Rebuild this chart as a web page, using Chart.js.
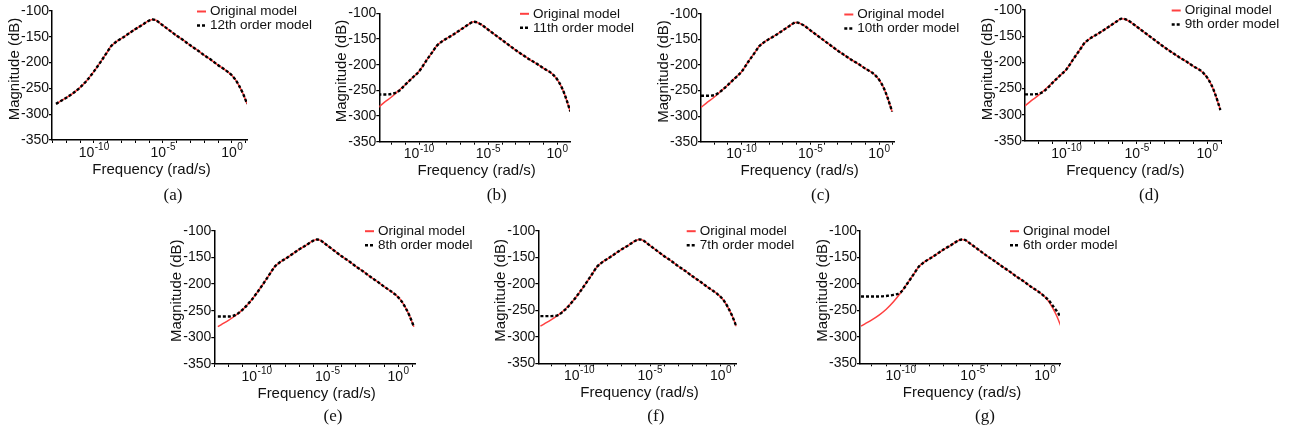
<!DOCTYPE html>
<html lang="en">

<head>
    <meta charset="UTF-8">
    <title>Reduced order models</title>
    <script src="https://cdn.jsdelivr.net/npm/chart.js"></script>
    <style>
        html, body { margin: 0; padding: 0; background: #fff; }
        #wrap { position: relative; width: 1300px; height: 437px; overflow: hidden; }
        #wrap canvas { position: absolute; left: 0; top: 0; }
    </style>
</head>

<body>
    <div id="wrap"></div>

    <script>
        // frequency grid as powers of ten (rad/s), two sets
        const freqExpA = [-12.75, -12.5, -12, -11.5, -11, -10.5, -10, -9.5, -9, -8.75, -8.5, -8.25, -8, -7.5, -7, -6.5, -6.25, -6, -5.75, -5.5, -5.25, -5, -4.5, -4, -3.5, -3, -2.5, -2, -1.5, -1, -0.5, -0.25, 0, 0.25, 0.5, 0.8, 1.1];
        const freqExpB = [-12.95, -12.5, -12, -11.5, -11, -10.5, -10, -9.5, -9, -8.75, -8.5, -8.25, -8, -7.5, -7, -6.5, -6.25, -6.1, -5.9, -5.75, -5.5, -5, -4.5, -4, -3.5, -3, -2.5, -2, -1.5, -1, -0.5, -0.25, 0, 0.3, 0.6, 0.94];

        // original model magnitude (dB)
        const origA = [-280, -276, -268, -259, -248, -234, -217, -198, -178, -168, -162, -157, -153, -144, -135, -127, -122.5, -118.5, -116.5, -118, -123, -128, -138, -148, -157, -167, -176, -186, -195, -205, -214, -219, -225, -233, -244, -260, -280];
        const origB = [-283, -273, -263, -251, -239, -226, -213, -193, -174, -164, -158, -153, -149, -141, -132, -123, -118.5, -116.5, -117, -118.5, -122, -132, -142, -152, -162, -172, -181, -190, -198, -207, -215, -221, -229, -243, -263, -291];

        // reduced order models (dB)
        const m12 = [-280, -276, -268, -259, -248, -234, -217, -198, -178, -168, -162, -157, -153, -144, -135, -127, -122.5, -118.5, -116.5, -118, -123, -128, -138, -148, -157, -167, -176, -186, -195, -205, -214, -219, -225, -233, -244, -260, -280];
        const m11 = [-258, -258, -257, -252, -239, -226, -213, -193, -174, -164, -158, -153, -149, -141, -132, -123, -118.5, -116.5, -117, -118.5, -122, -132, -142, -152, -162, -172, -181, -190, -198, -207, -215, -221, -229, -243, -263, -291];
        const m10 = [-260, -260, -259, -251, -239, -226, -213, -193, -174, -164, -158, -153, -149, -141, -132, -123, -118.5, -116.5, -117, -118.5, -122, -132, -142, -152, -162, -172, -181, -190, -198, -207, -215, -221, -229, -243, -263, -291];
        const m9 = [-261, -261, -260, -253, -239, -226, -213, -193, -174, -164, -158, -153, -149, -141, -132, -123, -118.5, -116.5, -117, -118.5, -122, -132, -142, -152, -162, -172, -181, -190, -198, -207, -215, -221, -229, -243, -263, -291];
        const m8 = [-261, -261, -261, -258, -248, -234, -217, -198, -178, -168, -162, -157, -153, -144, -135, -127, -122.5, -118.5, -116.5, -118, -123, -128, -138, -148, -157, -167, -176, -186, -195, -205, -214, -219, -225, -233, -244, -260, -280];
        const m7 = [-261, -261, -261, -259, -249, -234, -217, -198, -178, -168, -162, -157, -153, -144, -135, -127, -122.5, -118.5, -116.5, -118, -123, -128, -138, -148, -157, -167, -176, -186, -195, -205, -214, -219, -225, -233, -244, -260, -280];
        const m6 = [-224, -224, -224, -224, -223, -221, -216, -198, -178, -168, -162, -157, -153, -144, -135, -127, -122.5, -118.5, -116.5, -118, -123, -128, -138, -148, -157, -167, -176, -186, -195, -205, -214, -219, -225, -231, -240, -251, -263];

        // ticks
        const yTicks = [-100, -150, -200, -250, -300, -350];
        const xTickExps = [-13, -12, -11, -10, -9, -8, -7, -6, -5, -4, -3, -2, -1, 0, 1];
        const xLabelExps = [-10, -5, 0];
        const xLabelSups = ['-10', '-5', '0'];

        const FONT = '"Liberation Sans", Arial, sans-serif';
        const TXT = '#111';
        const RED = '#ff4040';

        // panel placement on the page
        const panels = [
            { X0: 52, Y0: 11, Y1: 140, X1: 247, xmin: -13.04, xmax: 1.09, label: '(a)', lx: 173, ly: 196, freq: freqExpA, orig: origA, model: m12, name: '12th order model' },
            { X0: 379.3, Y0: 13.3, Y1: 141.7, X1: 570, xmin: -12.88, xmax: 0.92, label: '(b)', lx: 496.7, ly: 196, freq: freqExpB, orig: origB, model: m11, name: '11th order model' },
            { X0: 701, Y0: 14, Y1: 141.7, X1: 894.3, xmin: -12.95, xmax: 1.1, label: '(c)', lx: 820.5, ly: 196, freq: freqExpB, orig: origB, model: m10, name: '10th order model' },
            { X0: 1025, Y0: 10, Y1: 141, X1: 1221.7, xmin: -12.95, xmax: 1.03, label: '(d)', lx: 1149, ly: 196, freq: freqExpB, orig: origB, model: m9, name: '9th order model' },
            { X0: 214.3, Y0: 230.7, Y1: 364, X1: 415, xmin: -13, xmax: 1.18, label: '(e)', lx: 333, ly: 416.7, freq: freqExpA, orig: origA, model: m8, name: '8th order model' },
            { X0: 538.3, Y0: 230.7, Y1: 363.3, X1: 736.7, xmin: -12.9, xmax: 1.13, label: '(f)', lx: 655.8, ly: 416.7, freq: freqExpA, orig: origA, model: m7, name: '7th order model' },
            { X0: 860, Y0: 230.7, Y1: 363.3, X1: 1060, xmin: -12.82, xmax: 1.04, label: '(g)', lx: 985, ly: 416.7, freq: freqExpA, orig: origA, model: m6, name: '6th order model' }
        ];

        // titles, superscript tick labels, legend and sub-figure letter
        const decor = {
            id: 'decor',
            afterDraw(chart, args, o) {
                const ctx = chart.ctx, a = chart.chartArea, xs = chart.scales.x;
                ctx.save();
                ctx.fillStyle = TXT;
                ctx.textBaseline = 'alphabetic';
                ctx.textAlign = 'left';

                xLabelExps.forEach((e, i) => {
                    const px = xs.getPixelForValue(Math.pow(10, e));
                    ctx.font = '14px ' + FONT;
                    const w1 = ctx.measureText('10').width;
                    ctx.font = '10px ' + FONT;
                    const w2 = ctx.measureText(xLabelSups[i]).width;
                    const start = px - (w1 + w2 + 0.5) / 2;
                    ctx.font = '14px ' + FONT;
                    ctx.fillText('10', start, a.bottom + 16.5);
                    ctx.font = '10px ' + FONT;
                    ctx.fillText(xLabelSups[i], start + w1 + 0.5, a.bottom + 10);
                });

                ctx.font = '15px ' + FONT;
                ctx.textAlign = 'center';
                ctx.fillText('Frequency (rad/s)', (a.left + a.right) / 2 + 2, a.bottom + 33.5);

                ctx.save();
                ctx.translate(a.left - 37, a.top + 0.45 * (a.bottom - a.top));
                ctx.rotate(-Math.PI / 2);
                ctx.textBaseline = 'middle';
                ctx.fillText('Magnitude (dB)', 0, 0);
                ctx.restore();

                // legend
                const items = [chart.data.datasets[1], chart.data.datasets[0]];
                items.forEach((ds, i) => {
                    const y = a.top + 0.5 + i * 14;
                    ctx.save();
                    ctx.strokeStyle = ds.borderColor;
                    ctx.lineWidth = i === 0 ? 2 : 2.4;
                    ctx.setLineDash(i === 0 ? [] : [3, 2]);
                    ctx.beginPath();
                    ctx.moveTo(a.right - 50, y);
                    ctx.lineTo(a.right - 41, y);
                    ctx.stroke();
                    ctx.restore();
                    ctx.font = '13.5px ' + FONT;
                    ctx.textAlign = 'left';
                    ctx.textBaseline = 'middle';
                    ctx.fillText(ds.label, a.right - 37, y);
                });

                ctx.font = '17px "Liberation Serif", "Times New Roman", serif';
                ctx.textAlign = 'center';
                ctx.textBaseline = 'middle';
                ctx.fillText(o.label, o.lx, o.ly);
                ctx.restore();
            }
        };

        const wrap = document.getElementById('wrap');

        panels.forEach(p => {
            const cv = document.createElement('canvas');
            cv.width = 1300; cv.height = 437;
            cv.style.width = '1300px'; cv.style.height = '437px';
            wrap.appendChild(cv);

            const pts = vals => p.freq.map((e, i) => ({ x: Math.pow(10, e), y: vals[i] }));

            new Chart(cv.getContext('2d'), {
                type: 'line',
                data: {
                    datasets: [
                        {
                            label: p.name,
                            data: pts(p.model),
                            borderColor: '#000',
                            borderWidth: 2.4,
                            borderDash: [3, 2],
                            pointRadius: 0,
                            cubicInterpolationMode: 'monotone',
                            order: 1
                        },
                        {
                            label: 'Original model',
                            data: pts(p.orig),
                            borderColor: RED,
                            borderWidth: 1.5,
                            pointRadius: 0,
                            cubicInterpolationMode: 'monotone',
                            order: 2
                        }
                    ]
                },
                options: {
                    responsive: false,
                    animation: false,
                    devicePixelRatio: 1,
                    events: [],
                    layout: {
                        padding: { left: p.X0 - 40, top: p.Y0, right: 1300 - p.X1, bottom: 437 - p.Y1 - 30 }
                    },
                    scales: {
                        x: {
                            type: 'logarithmic',
                            min: Math.pow(10, p.xmin),
                            max: Math.pow(10, p.xmax),
                            bounds: 'data',
                            afterFit(s) { s.height = 30; },
                            afterBuildTicks(s) {
                                s.ticks = xTickExps.filter(e => e >= p.xmin && e <= p.xmax).map(e => ({ value: Math.pow(10, e) }));
                            },
                            ticks: { display: false, autoSkip: false },
                            grid: { drawOnChartArea: false, tickLength: 3, color: '#000', lineWidth: 1 },
                            border: { color: '#000', width: 1.5 }
                        },
                        y: {
                            type: 'linear',
                            min: -350,
                            max: -100,
                            afterFit(s) { s.width = 40; },
                            afterBuildTicks(s) { s.ticks = yTicks.map(v => ({ value: v })); },
                            ticks: {
                                font: { family: FONT, size: 14 },
                                color: TXT,
                                padding: 0
                            },
                            grid: { drawOnChartArea: false, tickLength: 3, color: '#000', lineWidth: 1.2 },
                            border: { color: '#000', width: 1.5 }
                        }
                    },
                    plugins: {
                        legend: { display: false },
                        tooltip: { enabled: false },
                        decor: { label: p.label, lx: p.lx, ly: p.ly }
                    }
                },
                plugins: [decor]
            });
        });
    </script>
</body>

</html>
